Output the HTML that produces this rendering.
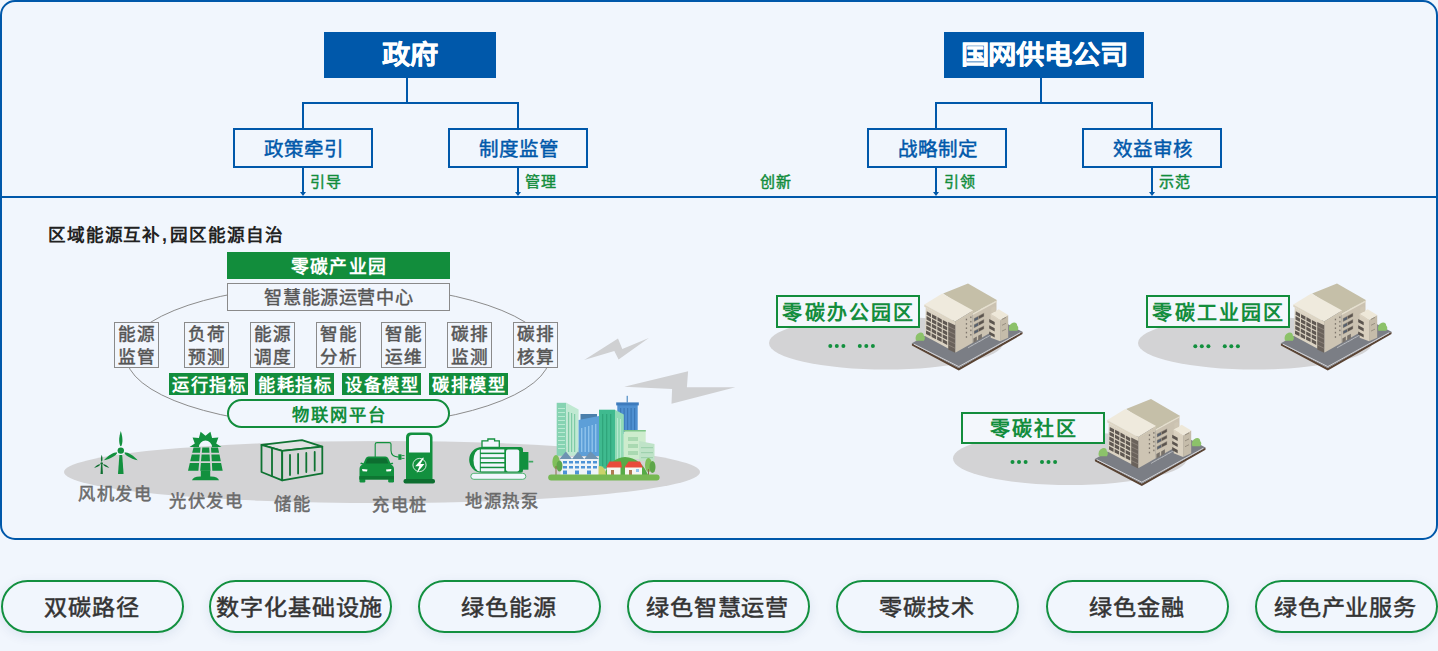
<!DOCTYPE html>
<html lang="zh-CN">
<head>
<meta charset="utf-8">
<style>
html,body{margin:0;padding:0;}
body{width:1438px;height:651px;background:#f1f6fd;position:relative;overflow:hidden;font-family:"Liberation Sans",sans-serif;}
.a{position:absolute;box-sizing:border-box;}
.t{position:absolute;white-space:nowrap;line-height:1;}
.frame{left:0;top:0;width:1438px;height:540px;border:2px solid #0058aa;border-radius:15px;}
.hl{background:#0058aa;}
.big{background:#0058aa;color:#fff;font-weight:700;font-size:26.5px;display:flex;align-items:center;justify-content:center;padding-bottom:4.5px;-webkit-text-stroke:0.3px #fff;}
.big span{display:inline-block;transform:scaleX(1.07);}
.sub{border:2px solid #0058aa;color:#0058aa;font-size:19.5px;display:flex;align-items:center;justify-content:center;padding-left:2px;padding-bottom:1px;-webkit-text-stroke:0.45px #0058aa;}
.gt{color:#128d3c;font-size:15px;letter-spacing:1px;-webkit-text-stroke:0.45px #128d3c;}
.pill{top:580px;width:183px;height:53px;border:2px solid #139040;border-radius:27px;color:#333;font-size:21.8px;letter-spacing:0.5px;display:flex;align-items:center;justify-content:center;padding-right:1.5px;padding-bottom:2.6px;box-shadow:0 3px 12px rgba(0,50,110,0.09);-webkit-text-stroke:0.5px #333;}
.pill span{display:inline-block;transform:scaleX(1.06);}
.sm{width:45px;height:46px;border:1px solid #8a8a8a;background:#f1f6fd;color:#555;font-size:17.6px;letter-spacing:0.9px;line-height:22.4px;text-align:center;padding-top:0.3px;padding-left:0.9px;-webkit-text-stroke:0.5px #555;white-space:normal;}
.tag{top:373px;width:79px;height:22px;background:#128d3c;color:#fff;font-size:17.2px;letter-spacing:1.7px;padding-left:1.7px;font-weight:700;display:flex;align-items:center;justify-content:center;padding-bottom:1px;}
.lab{color:#6a6a6a;font-size:17.3px;letter-spacing:1.6px;-webkit-text-stroke:0.5px #6a6a6a;}
.zbox{width:144px;height:33px;border:2px solid #128d3c;background:#f3f7fc;color:#128d3c;font-size:20px;letter-spacing:2.2px;font-weight:700;display:flex;align-items:center;justify-content:center;padding-bottom:1px;padding-left:2.2px;}
</style>
</head>
<body>
<div class="a frame"></div>

<!-- top left tree -->
<div class="a big" style="left:324px;top:32px;width:172px;height:46px;"><span>政府</span></div>
<div class="a hl" style="left:406px;top:78px;width:2px;height:25px;"></div>
<div class="a hl" style="left:302px;top:102px;width:217px;height:2px;"></div>
<div class="a hl" style="left:302px;top:102px;width:2px;height:26px;"></div>
<div class="a hl" style="left:517px;top:102px;width:2px;height:26px;"></div>
<div class="a sub" style="left:233px;top:128px;width:140px;height:40px;">政策牵引</div>
<div class="a sub" style="left:448px;top:128px;width:140px;height:40px;">制度监管</div>

<!-- top right tree -->
<div class="a big" style="left:944px;top:32px;width:200px;height:46px;"><span>国网供电公司</span></div>
<div class="a hl" style="left:1040px;top:78px;width:2px;height:25px;"></div>
<div class="a hl" style="left:935px;top:102px;width:218px;height:2px;"></div>
<div class="a hl" style="left:935px;top:102px;width:2px;height:26px;"></div>
<div class="a hl" style="left:1151px;top:102px;width:2px;height:26px;"></div>
<div class="a sub" style="left:867px;top:128px;width:140px;height:40px;">战略制定</div>
<div class="a sub" style="left:1082px;top:128px;width:140px;height:40px;">效益审核</div>

<!-- arrows down to divider -->
<div class="a hl" style="left:302px;top:168px;width:2px;height:25px;"></div>
<div class="a hl" style="left:517px;top:168px;width:2px;height:25px;"></div>
<div class="a hl" style="left:935px;top:168px;width:2px;height:25px;"></div>
<div class="a hl" style="left:1151px;top:168px;width:2px;height:25px;"></div>
<svg class="a" style="left:0;top:0" width="1438" height="200">
<path fill="#0058aa" d="M300 192h6l-3 4z M515 192h6l-3 4z M933 192h6l-3 4z M1149 192h6l-3 4z"/>
</svg>
<div class="t gt" style="left:310px;top:174px;">引导</div>
<div class="t gt" style="left:525px;top:174px;">管理</div>
<div class="t gt" style="left:760px;top:174px;">创新</div>
<div class="t gt" style="left:944px;top:174px;">引领</div>
<div class="t gt" style="left:1159px;top:174px;">示范</div>

<!-- divider -->
<div class="a hl" style="left:0;top:196px;width:1438px;height:2px;"></div>

<!-- ===== middle left ===== -->
<div class="t" style="left:48px;top:227px;font-size:17.6px;letter-spacing:0.85px;font-weight:700;color:#222;">区域能源互补<span style="margin:0 2.5px 0 1px">,</span>园区能源自治</div>

<svg class="a" style="left:0;top:0" width="1438" height="651">
  <!-- grey ground ellipse -->
  <ellipse cx="382" cy="472" rx="318" ry="31" fill="#d3d3d5"/>
  <!-- platform ellipse outline -->
  <ellipse cx="338" cy="355.5" rx="212" ry="71" fill="none" stroke="#8c8c8c" stroke-width="1"/>
  <!-- lightning bolts -->
  <path fill="#cfd0d2" d="M584.2 360.1 L618 338.6 L622.3 349.1 L648.8 338 L618.6 359.5 L614.3 350.9 Z"/>
  <path fill="#cfd0d2" d="M624.2 386.8 L688.1 371.2 L686.9 387.2 L735.4 387.2 L671.5 403.8 L672.1 389 Z"/>

  <!-- wind turbines -->
  <g fill="#12903e">
    <g transform="translate(120.8 450.6)">
      <path d="M0 -3.5 C2.3 -7 2.1 -13 0 -19.5 C-2.1 -13 -2.3 -7 0 -3.5Z"/>
      <path transform="rotate(120)" d="M0 -3.5 C2.3 -7 2.1 -13 0 -19.5 C-2.1 -13 -2.3 -7 0 -3.5Z"/>
      <path transform="rotate(240)" d="M0 -3.5 C2.3 -7 2.1 -13 0 -19.5 C-2.1 -13 -2.3 -7 0 -3.5Z"/>
      <circle r="4.3" fill="#f1f6fd"/>
      <circle r="3.2"/>
    </g>
    <path d="M119.4 455 L122.2 455 L123.6 474 L118 474 Z"/>
  </g>
  <g fill="#0e6e30">
    <g transform="translate(101.7 463.6)">
      <path d="M0 -1.5 C1.1 -3 1 -6 0 -8.8 C-1 -6 -1.1 -3 0 -1.5Z"/>
      <path transform="rotate(120)" d="M0 -1.5 C1.1 -3 1 -6 0 -8.8 C-1 -6 -1.1 -3 0 -1.5Z"/>
      <path transform="rotate(240)" d="M0 -1.5 C1.1 -3 1 -6 0 -8.8 C-1 -6 -1.1 -3 0 -1.5Z"/>
      <circle r="1.3"/>
    </g>
    <path d="M101 465 L102.4 465 L102.9 474 L100.5 474 Z"/>
  </g>
  <!-- solar -->
  <g fill="#12903e">
    <path fill-rule="evenodd" d="M189.5 447.0 L194.8 443.5 L192.6 437.6 L198.9 437.9 L200.6 431.8 L205.5 435.8 L210.4 431.8 L212.1 437.9 L218.4 437.6 L216.2 443.5 L221.5 447.0 L212.0 447.0 A6.5 6.5 0 0 0 199.0 447.0 Z"/>
    <path d="M193.5 447.4 L200.5 447.4 L200.0 452.8 L192.2 452.8 Z M202.3 447.4 L209.2 447.4 L209.5 452.8 L201.8 452.8 Z M211.0 447.4 L218.0 447.4 L219.1 452.8 L211.3 452.8 Z M191.8 454.6 L199.8 454.6 L199.2 461.2 L190.2 461.2 Z M201.6 454.6 L209.6 454.6 L210.0 461.2 L201.0 461.2 Z M211.4 454.6 L219.5 454.6 L220.8 461.2 L211.8 461.2 Z M189.8 463.0 L199.1 463.0 L198.4 470.7 L188.0 470.7 Z M200.9 463.0 L210.1 463.0 L210.5 470.7 L200.2 470.7 Z M211.9 463.0 L221.1 463.0 L222.7 470.7 L212.3 470.7 Z"/>
    <rect x="200.8" y="470.5" width="9.4" height="7"/>
    <path d="M192 480.3 Q193 476.8 200 476.5 L211 476.5 Q218 476.8 219 480.3 Z"/>
  </g>
  <!-- storage container -->
  <g stroke="#0f7332" stroke-width="1.8" stroke-linejoin="round" stroke-linecap="round">
    <path fill="#e2e2e4" d="M261.5 444.8 L302 440.2 L322.3 446.7 L282.2 450.8 Z"/>
    <path fill="#d6d6d8" d="M261.5 444.8 L282.2 450.8 L282.2 480.3 L261.5 472 Z"/>
    <path fill="#d6d6d8" d="M282.2 450.8 L322.3 446.7 L322.3 473.4 L282.2 480.3 Z"/>
    <path fill="none" d="M272 448 L272 476.2 M290 455 L290 475 M298.1 454 L298.1 473.5 M306.3 453 L306.3 472 M314.7 452 L314.7 470.5"/>
  </g>
  <!-- EV charger -->
  <g fill="#12903e">
    <path d="M363.5 463.2 L365.8 458.3 Q366.6 456.6 368.6 456.6 L385.4 456.6 Q387.4 456.6 388.2 458.3 L390.5 463.2 L392.5 462.6 L393.3 464 L390.8 464.6 Q394 466 394 469 L394 479.5 L359.5 479.5 L359.5 469 Q359.5 466 362.7 464.6 L360.2 464 L361 462.6 Z"/>
    <rect x="359.5" y="476.5" width="5.8" height="6" rx="1.2"/>
    <rect x="388.2" y="476.5" width="5.8" height="6" rx="1.2"/>
    <path fill="#0d6e30" d="M365.6 463.6 L367.4 459 Q367.8 458.2 368.8 458.2 L385.2 458.2 Q386.2 458.2 386.6 459 L388.4 463.6 Z"/>
    <rect fill="#0e7632" x="359.5" y="476" width="34.5" height="3.5"/>
    <path fill="#fff" d="M362 469 L367.5 469.6 L367 471.6 L362.6 471.2 Z M391.5 469 L386 469.6 L386.5 471.6 L390.9 471.2 Z"/>
    <path fill="none" stroke="#12903e" stroke-width="1.1" d="M375.2 457 L375.2 444.3 Q375.2 442.6 377 442.6 L389.3 442.6 Q391 442.6 391 444.3 L391 450.5 Q391.2 456.8 398.6 457.1"/>
    <path d="M398.3 454.3 L401.5 454.3 L401.5 459.8 L398.3 459.8 Z"/>
    <path fill="none" stroke="#12903e" stroke-width="0.9" d="M401.5 455.6 L404.5 455.6 M401.5 458.4 L404.5 458.4"/>
    <path d="M406 437.5 Q406 432.5 411 432.5 L427.5 432.5 Q432.5 432.5 432.5 437.5 L432.5 479.5 L406 479.5 Z"/>
    <path fill="#f1f6fd" d="M409 438 Q409 435 412 435 L427 435 Q430 435 430 438 L430 452.5 L409 452.5 Z"/>
    <circle cx="419.5" cy="465" r="6.6" fill="none" stroke="#fff" stroke-width="0.8"/>
    <path fill="#fff" d="M422.8 457.8 L415.2 466.2 L419.4 466.2 L416.6 473.2 L424.4 464 L420.4 464 L424 457.8 Z"/>
    <rect fill="#0d6e30" x="403.5" y="479" width="31.5" height="4.4" rx="2"/>
  </g>
  <!-- heat pump -->
  <g>
    <path fill="#f1f6fd" stroke="#12903e" stroke-width="1.3" d="M482 440.8 L487.9 440.8 L487.9 439 L494.6 439 L494.6 440.8 L499.3 440.8 L499.3 447.5 L482 447.5 Z"/>
    <path fill="#12903e" d="M482 447 L520.5 447 Q523 447 523 449.5 L523 470.2 Q523 472.7 520.5 472.7 L482 472.7 A12.85 12.85 0 0 1 482 447 Z"/>
    <path fill="#f1f6fd" d="M479.8 449.4 A6.3 11 0 0 0 479.8 471.4 Z"/>
    <g fill="#f1f6fd">
      <rect x="480.8" y="449.4" width="23.5" height="3.2"/>
      <rect x="480.8" y="454.1" width="23.5" height="3.2"/>
      <rect x="480.8" y="458.8" width="23.5" height="3.2"/>
      <rect x="480.8" y="463.5" width="23.5" height="3.2"/>
      <rect x="480.8" y="468.2" width="23.5" height="3.2"/>
    </g>
    <rect fill="#f1f6fd" x="506" y="449.4" width="13.2" height="22" rx="2"/>
    <rect fill="#12903e" x="523" y="452" width="5.4" height="17.7"/>
    <rect fill="#3fa862" x="528.4" y="460.8" width="4.8" height="1.7"/>
    <rect fill="#f1f6fd" stroke="#52b373" stroke-width="1" x="470.8" y="473.3" width="55" height="6" rx="3"/>
  </g>

  <!-- city illustration -->
  <g>
    <!-- tall mint left -->
    <rect x="556.7" y="402.8" width="9.6" height="53" fill="#86d3b2"/>
    <path d="M566.3 402.8 L578.6 409.5 L578.6 455.8 L566.3 455.8 Z" fill="#c0e9d2"/>
    <g fill="#b9ead2"><rect x="558" y="408" width="7" height="1"/><rect x="558" y="412" width="7" height="1"/><rect x="558" y="416" width="7" height="1"/><rect x="558" y="420" width="7" height="1"/><rect x="558" y="424" width="7" height="1"/><rect x="558" y="428" width="7" height="1"/><rect x="558" y="432" width="7" height="1"/><rect x="558" y="436" width="7" height="1"/><rect x="558" y="440" width="7" height="1"/><rect x="558" y="444" width="7" height="1"/><rect x="558" y="448" width="7" height="1"/></g>
    <g fill="#7fcba6"><rect x="568" y="412" width="1.2" height="40"/><rect x="571" y="413" width="1.2" height="39"/><rect x="574" y="414" width="1.2" height="38"/></g>
    <!-- blue mid -->
    <rect x="580.5" y="414" width="16.5" height="10" fill="#4b7fab"/>
    <path d="M578.6 420 L599 416 L599 456 L578.6 456 Z" fill="#5d9fd8"/>
    <g fill="#8fc3ec"><rect x="581" y="428" width="1.4" height="24"/><rect x="584.5" y="427" width="1.4" height="25"/><rect x="588" y="426" width="1.4" height="26"/><rect x="591.5" y="425" width="1.4" height="27"/><rect x="595" y="424" width="1.4" height="28"/></g>
    <!-- dark blue tower back right -->
    <rect x="617.3" y="404" width="20.4" height="30" fill="#4f90d1"/>
    <rect x="616.2" y="402.4" width="22.6" height="3" fill="#3d7bbd"/>
    <rect x="626.6" y="395.8" width="1.3" height="7" fill="#5a95c8"/>
    <g fill="#3b78b8"><rect x="620" y="408" width="1.2" height="24"/><rect x="623.5" y="408" width="1.2" height="24"/><rect x="627" y="408" width="1.2" height="24"/><rect x="630.5" y="408" width="1.2" height="24"/><rect x="634" y="408" width="1.2" height="24"/></g>
    <!-- teal tall -->
    <rect x="599" y="409.7" width="16" height="59" fill="#3fba8f"/>
    <path d="M615 409.7 L623.8 414.5 L623.8 468.8 L615 468.8 Z" fill="#92dbb6"/>
    <g fill="#2fa57b"><rect x="602" y="414" width="1.3" height="52"/><rect x="606" y="414" width="1.3" height="52"/><rect x="610" y="414" width="1.3" height="52"/></g>
    <g fill="#b7ead0"><rect x="617" y="418" width="1" height="48"/><rect x="620" y="419" width="1" height="47"/></g>
    <!-- light green right -->
    <path d="M623.8 432 L627 430 L645.7 430 L645.7 459 L623.8 459 Z" fill="#cdeccd"/>
    <rect x="623.8" y="430" width="22" height="1.5" fill="#7fc58a"/>
    <g fill="#a9d9b1"><rect x="628" y="437" width="10" height="4"/><rect x="628" y="444" width="10" height="4"/><rect x="628" y="451" width="10" height="4"/></g>
    <!-- glass right -->
    <path d="M639.2 441 L654.5 444 L654.5 461 L639.2 461 Z" fill="#bfe3c8"/>
    <g fill="#9fd2ae"><rect x="641" y="447" width="12" height="1.2"/><rect x="641" y="452" width="12" height="1.2"/><rect x="641" y="457" width="12" height="1.2"/></g>
    <!-- hill -->
    <path d="M604 475 Q610 458 625 457 Q641 458 648 475 Z" fill="#56ab47"/>
    <path d="M594 475 Q595 466 600 466 Q605 466 606 475 Z" fill="#c9d36a"/>
    <!-- townhouses -->
    <rect x="560.5" y="457" width="38" height="18" fill="#eef4f8"/>
    <path d="M559.6 459 L565.8 451.5 L572 459 L578 451.5 L584.2 459 L590.4 451.5 L599 459 Z" fill="#6e93b2"/>
    <g fill="#4d93d6"><rect x="563" y="461" width="4" height="2.5"/><rect x="569" y="461" width="4" height="2.5"/><rect x="575" y="461" width="4" height="2.5"/><rect x="581" y="461" width="4" height="2.5"/><rect x="587" y="461" width="4" height="2.5"/><rect x="593" y="461" width="4" height="2.5"/>
    <rect x="563" y="466" width="4" height="2.5"/><rect x="569" y="466" width="4" height="2.5"/><rect x="575" y="466" width="4" height="2.5"/><rect x="581" y="466" width="4" height="2.5"/><rect x="587" y="466" width="4" height="2.5"/><rect x="593" y="466" width="4" height="2.5"/>
    <rect x="563" y="470.5" width="4" height="4"/><rect x="575" y="470.5" width="4" height="4"/><rect x="587" y="470.5" width="4" height="4"/></g>
    <!-- red houses -->
    <rect x="607" y="466.5" width="13.5" height="8.5" fill="#f6f6f2"/>
    <path d="M606 467.5 L609.5 461.5 L620.9 461.5 L622 467.5 Z" fill="#e84a3c"/>
    <rect x="611" y="470" width="3" height="5" fill="#b07a52"/>
    <rect x="625" y="466.5" width="17" height="8.5" fill="#f6f6f2"/>
    <path d="M624.4 467.5 L628.5 461.5 L640 461.5 L643 467.5 Z" fill="#e84a3c"/>
    <rect x="629" y="470" width="3" height="5" fill="#b07a52"/>
    <rect x="636" y="469" width="3" height="3" fill="#8fc3ec"/>
    <!-- trees -->
    <ellipse cx="556" cy="462" rx="3.6" ry="7" fill="#7fbf5a"/>
    <ellipse cx="559.5" cy="466" rx="3" ry="5.5" fill="#5ea64a"/>
    <rect x="555.5" y="466" width="1" height="9" fill="#8a6a4a"/>
    <ellipse cx="648.5" cy="465" rx="3.5" ry="7" fill="#7fbf5a"/>
    <ellipse cx="652.5" cy="467" rx="3" ry="6" fill="#5ea64a"/>
    <rect x="648" y="469" width="1" height="6" fill="#8a6a4a"/>
    <!-- ground -->
    <rect x="548.2" y="474.6" width="111.4" height="6" rx="3" fill="#76b853"/>
  </g>
  <!-- right side ellipses -->
  <ellipse cx="886" cy="343" rx="117" ry="26.5" fill="#d3d3d5"/>
  <ellipse cx="1255" cy="343" rx="117" ry="26.5" fill="#d3d3d5"/>
  <ellipse cx="1070" cy="458.5" rx="117" ry="26.5" fill="#d3d3d5"/>

  <!-- buildings -->
  <g id="dots"><g fill="#12903e"><circle cx="830.3" cy="345.9" r="2"/><circle cx="836.8" cy="345.9" r="2"/><circle cx="843.4" cy="345.9" r="2"/><circle cx="859.8" cy="345.9" r="2"/><circle cx="866.3" cy="345.9" r="2"/><circle cx="872.9" cy="345.9" r="2"/></g></g>
  <use href="#dots" transform="translate(365 0.4)"/>
  <use href="#dots" transform="translate(182.2 116)"/>
  <g id="bld">
<path fill="#5a4434" d="M911.9 343.3 L958.8 367.9 L1022.5 331.8 L1022.5 334.1 L958.8 370.4 L911.9 345.6 Z"/>
<path fill="#7b7e85" d="M911.9 343.3 L975.7 307.2 L1022.5 331.8 L958.8 367.9 Z"/>
<path fill="none" stroke="#dcdde0" stroke-width="0.9" d="M913.9 344.1 L958.8 366.6 L1020.2 332.7"/>
<path stroke="#c9cbcf" stroke-width="0.7" d="M968.0 347.9 L972.2 345.3"/>
<path stroke="#c9cbcf" stroke-width="0.7" d="M971.7 345.8 L975.9 343.2"/>
<path stroke="#c9cbcf" stroke-width="0.7" d="M975.3 343.8 L979.5 341.2"/>
<path stroke="#c9cbcf" stroke-width="0.7" d="M979.0 341.8 L983.2 339.2"/>
<path stroke="#c9cbcf" stroke-width="0.7" d="M982.6 339.7 L986.8 337.1"/>
<path stroke="#c9cbcf" stroke-width="0.7" d="M986.3 337.7 L990.5 335.1"/>
<path fill="#cbc2b1" d="M972.4 313.6 L996.5 300.4 L996.5 329.3 L972.4 342.9 Z"/>
<path fill="#c5bfa8" d="M943.1 293.4 L968.0 283.4 L997.2 300.3 L972.4 313.6 Z"/>
<path fill="#e6e0cf" d="M972.4 313.6 L997.2 300.3 L996.5 302.0 L972.4 315.2 Z"/>
<path fill="#8f877c" d="M973.9 318.2 L984.1 312.8 L984.1 316.5 L973.9 321.9 Z"/>
<path fill="#56606e" d="M974.4 318.7 L978.0 316.8 L978.0 319.2 L974.4 321.1 Z"/>
<path fill="#5b544e" d="M979.0 316.3 L983.6 313.8 L983.6 316.2 L979.0 318.6 Z"/>
<path fill="#8f877c" d="M973.9 324.5 L984.1 319.1 L984.1 322.8 L973.9 328.2 Z"/>
<path fill="#56606e" d="M974.4 325.0 L978.0 323.1 L978.0 325.5 L974.4 327.4 Z"/>
<path fill="#5b544e" d="M979.0 322.6 L983.6 320.1 L983.6 322.5 L979.0 324.9 Z"/>
<path fill="#8f877c" d="M973.9 330.8 L984.1 325.4 L984.1 329.1 L973.9 334.5 Z"/>
<path fill="#56606e" d="M974.4 331.3 L978.0 329.4 L978.0 331.7 L974.4 333.6 Z"/>
<path fill="#5b544e" d="M979.0 328.8 L983.6 326.4 L983.6 328.8 L979.0 331.2 Z"/>
<path fill="#77716a" d="M973.4 338.4 L976.8 336.5 L976.8 341.0 L973.4 342.9 Z"/>
<path fill="#77716a" d="M978.2 335.8 L981.9 333.7 L981.9 338.2 L978.2 340.3 Z"/>
<path fill="#dcd4c4" d="M925.7 307.6 L955.2 323.3 L955.7 352.5 L925.0 336.1 Z"/>
<path fill="#cdc4b3" d="M955.2 323.3 L972.4 312.6 L972.4 342.9 L955.7 352.5 Z"/>
<rect x="965.8" y="318.7" width="1.3" height="1.6" fill="#7d756b"/>
<rect x="970.2" y="316.5" width="1.3" height="1.6" fill="#7d756b"/>
<rect x="965.8" y="323.1" width="1.3" height="1.6" fill="#7d756b"/>
<rect x="970.2" y="320.9" width="1.3" height="1.6" fill="#7d756b"/>
<rect x="965.8" y="327.4" width="1.3" height="1.6" fill="#7d756b"/>
<rect x="970.2" y="325.3" width="1.3" height="1.6" fill="#7d756b"/>
<rect x="965.8" y="331.8" width="1.3" height="1.6" fill="#7d756b"/>
<rect x="970.2" y="329.6" width="1.3" height="1.6" fill="#7d756b"/>
<rect x="965.8" y="336.2" width="1.3" height="1.6" fill="#7d756b"/>
<rect x="970.2" y="334.0" width="1.3" height="1.6" fill="#7d756b"/>
<path fill="#efeadd" d="M924.3 304.4 L942.3 293.4 L973.1 310.4 L955.2 321.5 Z"/>
<path fill="#ddd5c3" d="M924.3 304.4 L955.2 321.5 L955.2 323.9 L924.3 306.8 Z"/>
<path fill="#cfc6b3" d="M955.2 321.5 L973.1 310.4 L973.1 312.8 L955.2 323.9 Z"/>
<path fill="#5f5852" d="M926.8 311.3 L931.1 313.7 L931.0 317.2 L926.6 314.8 Z"/>
<path fill="#5f5852" d="M932.1 314.2 L936.5 316.5 L936.4 320.0 L932.0 317.7 Z"/>
<path fill="#5f5852" d="M937.5 317.0 L941.8 319.4 L941.8 322.9 L937.4 320.6 Z"/>
<path fill="#5f5852" d="M942.8 319.9 L947.2 322.3 L947.2 325.8 L942.8 323.4 Z"/>
<path fill="#5f5852" d="M926.6 316.1 L931.0 318.4 L930.9 322.0 L926.5 319.6 Z"/>
<path fill="#5f5852" d="M932.0 319.0 L936.4 321.3 L936.3 324.8 L931.9 322.5 Z"/>
<path fill="#5f5852" d="M937.4 321.8 L941.8 324.2 L941.8 327.7 L937.3 325.4 Z"/>
<path fill="#5f5852" d="M942.8 324.7 L947.2 327.0 L947.2 330.6 L942.8 328.2 Z"/>
<path fill="#5f5852" d="M926.4 320.9 L930.9 323.2 L930.8 326.8 L926.3 324.4 Z"/>
<path fill="#5f5852" d="M931.9 323.8 L936.3 326.1 L936.3 329.6 L931.8 327.3 Z"/>
<path fill="#5f5852" d="M937.3 326.6 L941.8 329.0 L941.7 332.5 L937.3 330.1 Z"/>
<path fill="#5f5852" d="M942.8 329.5 L947.2 331.8 L947.2 335.4 L942.7 333.0 Z"/>
<path fill="#5f5852" d="M926.3 325.7 L930.8 328.0 L930.7 331.5 L926.2 329.2 Z"/>
<path fill="#5f5852" d="M931.8 328.5 L936.2 330.9 L936.2 334.4 L931.7 332.1 Z"/>
<path fill="#5f5852" d="M937.2 331.4 L941.7 333.7 L941.7 337.3 L937.2 334.9 Z"/>
<path fill="#5f5852" d="M942.7 334.3 L947.2 336.6 L947.2 340.1 L942.7 337.8 Z"/>
<path fill="#5f5852" d="M926.1 330.5 L930.6 332.8 L930.5 336.3 L926.0 334.0 Z"/>
<path fill="#5f5852" d="M931.6 333.3 L936.1 335.7 L936.1 339.2 L931.6 336.9 Z"/>
<path fill="#5f5852" d="M937.2 336.2 L941.7 338.5 L941.6 342.1 L937.1 339.7 Z"/>
<path fill="#5f5852" d="M942.7 339.1 L947.2 341.4 L947.2 344.9 L942.7 342.6 Z"/>
<path fill="#6a625b" d="M948.2 321.9 L955.2 325.3 L955.2 352.8 L948.2 349.4 Z"/>
<path stroke="#a69d92" stroke-width="0.5" d="M948.2 326.5 L955.2 329.9"/>
<path stroke="#a69d92" stroke-width="0.5" d="M948.2 331.1 L955.2 334.5"/>
<path stroke="#a69d92" stroke-width="0.5" d="M948.2 335.7 L955.2 339.1"/>
<path stroke="#a69d92" stroke-width="0.5" d="M948.2 340.3 L955.2 343.7"/>
<path stroke="#a69d92" stroke-width="0.5" d="M948.2 344.9 L955.2 348.3"/>
<path fill="#d9d0bf" d="M990.7 313.9 L1000.1 319.7 L1000.1 341.3 L990.7 337.7 Z"/>
<path fill="#c5bcaa" d="M1000.1 319.7 L1008.2 315.0 L1008.2 337.7 L1000.1 341.3 Z"/>
<path fill="#eee8d9" d="M990.7 313.9 L998.7 309.2 L1008.2 315.0 L1000.1 319.7 Z"/>
<path fill="#ddd4c2" d="M990.7 313.9 L1000.1 319.7 L1000.1 321.2 L990.7 315.4 Z"/>
<path fill="#cfc6b4" d="M991.4 307.7 L994.3 306.3 L995.8 307.7 L995.8 311.4 L991.4 312.4 Z"/>
<path fill="#5b544e" d="M989.2 319.1 L994.7 322.1 L994.7 325.3 L989.2 322.3 Z"/>
<path fill="#5b544e" d="M989.2 325.3 L994.7 328.3 L994.7 331.5 L989.2 328.5 Z"/>
<path fill="#5b544e" d="M989.2 331.4 L994.7 334.4 L994.7 337.6 L989.2 334.6 Z"/>
<path stroke="#8d8476" stroke-width="0.8" d="M1002.0 319.4 L1006.0 317.4"/>
<path stroke="#8d8476" stroke-width="0.8" d="M1002.0 325.3 L1006.0 323.3"/>
<path stroke="#8d8476" stroke-width="0.8" d="M1002.0 331.1 L1006.0 329.1"/>
<path fill="#8cc26a" d="M915.9 340.7 q-1.5 -6 3.5 -8 q4 -1 4.5 3 q2 2 0 5 z"/>
<path fill="#8cc26a" d="M1009.3 330.7 q-1.5 -6 3.5 -8 q4 -1 4.5 3 q2 2 0 5 z"/>

  </g>
  <use href="#bld" transform="translate(369 0)"/>
  <use href="#bld" transform="translate(183 115.6)"/>
</svg>

<div class="a" style="left:227px;top:252px;width:223px;height:27px;background:#128d3c;color:#fff;font-size:17.8px;letter-spacing:1.2px;padding-left:1.2px;font-weight:700;display:flex;align-items:center;justify-content:center;padding-bottom:2px;">零碳产业园</div>
<div class="a" style="left:227px;top:283px;width:223px;height:28px;border:1px solid #8a8a8a;background:#f1f6fd;color:#555;font-size:18.1px;letter-spacing:0.65px;padding-left:0.65px;display:flex;align-items:center;justify-content:center;padding-bottom:3px;-webkit-text-stroke:0.4px #555;">智慧能源运营中心</div>

<div class="a sm" style="left:114px;top:322px;">能源<br>监管</div>
<div class="a sm" style="left:184px;top:322px;">负荷<br>预测</div>
<div class="a sm" style="left:250px;top:322px;">能源<br>调度</div>
<div class="a sm" style="left:316px;top:322px;">智能<br>分析</div>
<div class="a sm" style="left:381px;top:322px;">智能<br>运维</div>
<div class="a sm" style="left:447px;top:322px;">碳排<br>监测</div>
<div class="a sm" style="left:513px;top:322px;">碳排<br>核算</div>

<div class="a tag" style="left:169px;">运行指标</div>
<div class="a tag" style="left:255px;">能耗指标</div>
<div class="a tag" style="left:342px;">设备模型</div>
<div class="a tag" style="left:429px;">碳排模型</div>

<div class="a" style="left:227px;top:399px;width:223px;height:29px;border:2px solid #128d3c;border-radius:15px;background:#f1f6fd;color:#128d3c;font-size:17.3px;font-weight:700;display:flex;align-items:center;justify-content:center;padding-bottom:1px;letter-spacing:1.8px;padding-left:1.8px;">物联网平台</div>

<!-- icon labels -->
<div class="t lab" style="left:78px;top:486px;">风机发电</div>
<div class="t lab" style="left:169px;top:493px;">光伏发电</div>
<div class="t lab" style="left:274px;top:495.5px;">储能</div>
<div class="t lab" style="left:372px;top:497px;">充电桩</div>
<div class="t lab" style="left:465px;top:493px;">地源热泵</div>

<!-- ===== right ===== -->
<div class="a zbox" style="left:776px;top:295px;">零碳办公园区</div>
<div class="a zbox" style="left:1146px;top:295px;">零碳工业园区</div>
<div class="a zbox" style="left:961px;top:412px;height:32px;">零碳社区</div>

<!-- pills -->
<div class="a pill" style="left:1px;"><span>双碳路径</span></div>
<div class="a pill" style="left:209px;"><span>数字化基础设施</span></div>
<div class="a pill" style="left:418px;"><span>绿色能源</span></div>
<div class="a pill" style="left:627px;"><span>绿色智慧运营</span></div>
<div class="a pill" style="left:836px;"><span>零碳技术</span></div>
<div class="a pill" style="left:1046px;"><span>绿色金融</span></div>
<div class="a pill" style="left:1255px;"><span>绿色产业服务</span></div>
</body>
</html>
